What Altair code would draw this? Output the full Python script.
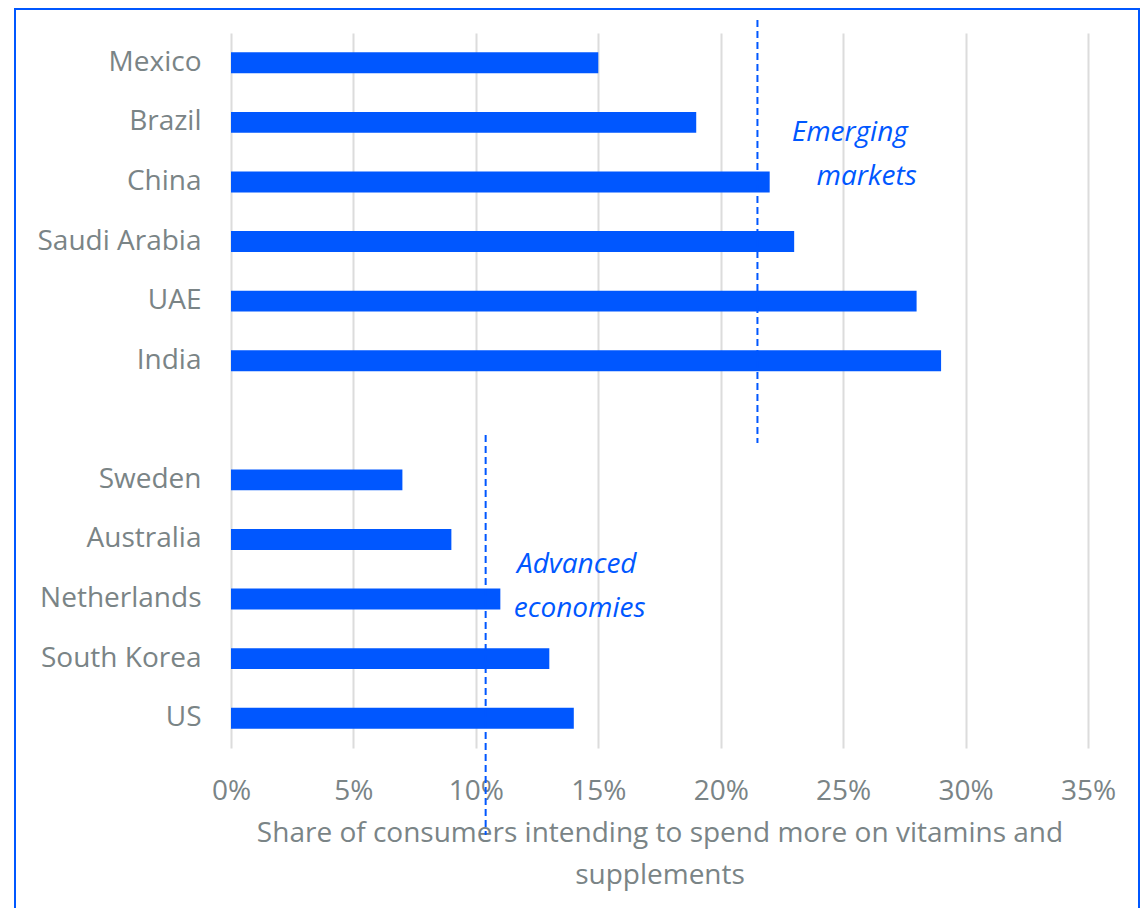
import altair as alt
import pandas as pd

emerging_countries = ["Mexico", "Brazil", "China", "Saudi Arabia", "UAE", "India"]
emerging_values = [15, 19, 22, 23, 28, 29]
advanced_countries = ["Sweden", "Australia", "Netherlands", "South Korea", "US"]
advanced_values = [7, 9, 11, 13, 14]
emerging_avg = 21.5
advanced_avg = 10.4
x_ticks = [0, 5, 10, 15, 20, 25, 30, 35]

BLUE = "#0057ff"
GRAY = "#7a8486"
FONT = "Open Sans"

order = emerging_countries + [" "] + advanced_countries
bars_df = pd.DataFrame({
    "country": emerging_countries + advanced_countries,
    "value": emerging_values + advanced_values,
})

W, H = 857, 715

bars = alt.Chart(bars_df).mark_bar(color=BLUE).encode(
    x=alt.X("value:Q",
            scale=alt.Scale(domain=[0, 35], nice=False),
            axis=alt.Axis(values=x_ticks, labelExpr="datum.value + '%'",
                          title=["Share of consumers intending to spend more on vitamins and", "supplements"],
                          grid=True, gridColor="#dcdcdc", gridWidth=2,
                          domain=False, ticks=False, labelFlush=False,
                          labelFont=FONT, labelFontSize=28, labelColor=GRAY,
                          labelPadding=29,
                          titleFont=FONT, titleFontSize=28, titleColor=GRAY,
                          titleFontWeight="normal", titlePadding=14,
                          titleLineHeight=42)),
    y=alt.Y("country:N",
            scale=alt.Scale(domain=order, paddingInner=0.65, paddingOuter=0.325),
            axis=alt.Axis(title=None, domain=False, ticks=False, grid=False,
                          labelFont=FONT, labelFontSize=28, labelColor=GRAY,
                          labelPadding=30, labelLimit=300)),
)

rules_df = pd.DataFrame({
    "avg": [emerging_avg, advanced_avg],
    "ytop": [-13, 402],
    "ybot": [410, 802],
})
rules = alt.Chart(rules_df).mark_rule(color=BLUE, strokeWidth=2, strokeDash=[7, 4]).encode(
    x="avg:Q",
    y=alt.Y("ytop:Q", scale=None),
    y2="ybot:Q",
)

ann_df = pd.DataFrame({
    "text": ["Emerging", "markets", "Advanced", "economies"],
    "xv": [25.27, 25.96, 14.12, 14.24],
    "yp": [100, 144, 532, 576],
})
ann = alt.Chart(ann_df).mark_text(color=BLUE, font=FONT, fontSize=28,
                                  fontStyle="italic", align="center", baseline="middle").encode(
    x="xv:Q",
    y=alt.Y("yp:Q", scale=None),
    text="text:N",
)

border = alt.Chart(pd.DataFrame({"a": [0]})).mark_rect(
    fill=None, stroke=BLUE, strokeWidth=2, fillOpacity=0).encode(
    x=alt.value(-216), x2=alt.value(908), y=alt.value(-24), y2=alt.value(900),
)

chart = alt.layer(border, bars, rules, ann).properties(
    width=W, height=H,
    autosize=alt.AutoSizeParams(type="none"),
    padding={"left": 223, "top": 25, "right": 52, "bottom": 160},
).configure(background="white").configure_view(stroke=None)

chart.save("out.html", embed_options={"renderer": "svg", "actions": False})
